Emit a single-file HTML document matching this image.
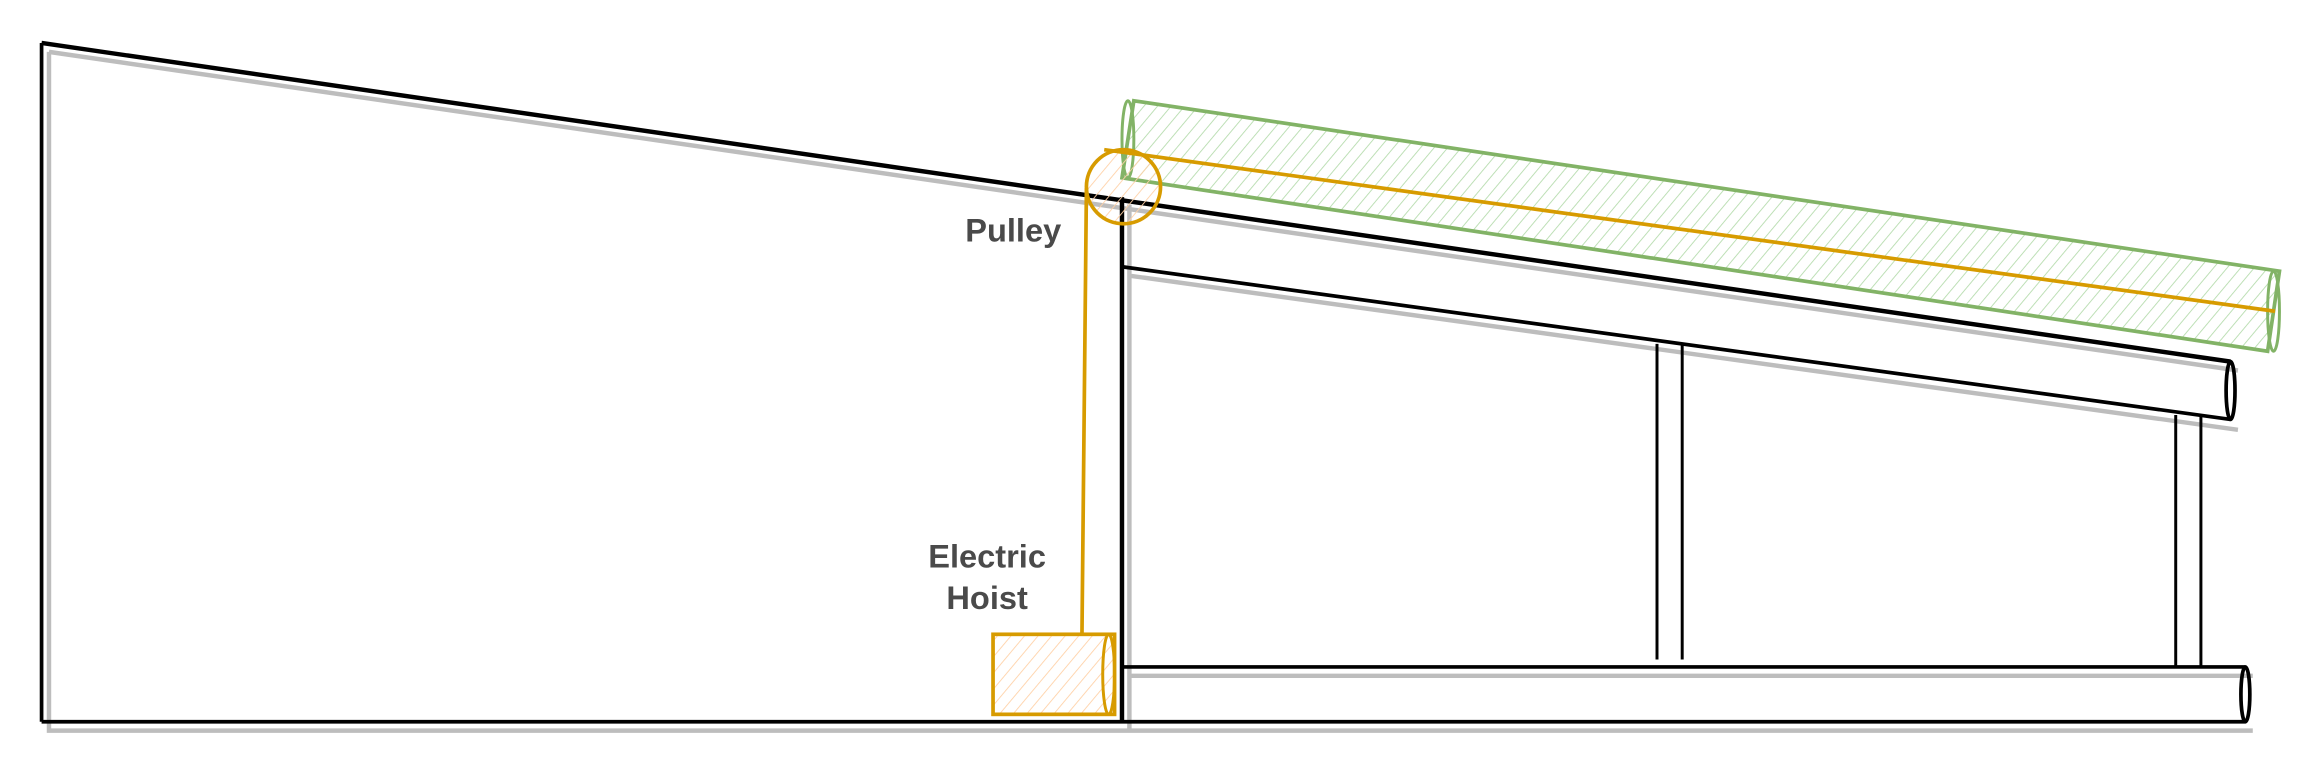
<!DOCTYPE html>
<html><head><meta charset="utf-8"><style>
html,body{margin:0;padding:0;background:#fff;}
svg{display:block;}
text{font-family:"Liberation Sans",sans-serif;font-weight:bold;fill:#4a4a4a;}
</style></head><body>
<svg width="2324" height="780" viewBox="0 0 1568 526.3">
<defs>
<pattern id="hg" width="7" height="7" patternUnits="userSpaceOnUse" patternTransform="rotate(40)">
<line x1="0" y1="0" x2="0" y2="7" stroke="#b6dcae" stroke-width="1.2"/></pattern>
<pattern id="ho" width="7" height="7" patternUnits="userSpaceOnUse" patternTransform="rotate(40)">
<line x1="0" y1="0" x2="0" y2="7" stroke="#ffd2a8" stroke-width="1.2"/></pattern>
</defs>
<g stroke="#bdbdbd" stroke-width="3" fill="none">
<path d="M33 35 L1510 250 M33 35 L33 493 L1520 493 M762 186 L1510 290 M762 138 L762 493 M762 456 L1520 456"/>
</g>
<g stroke="#000" stroke-width="2.5" fill="none">
<path d="M28 29 L1505 244" stroke-width="3"/>
<path d="M28 29 L28 487"/>
<path d="M28 487 L1515 487"/>
<path d="M757 133 L757 487" stroke-width="3"/>
<path d="M757 180 L1505 283"/>
<ellipse cx="1505" cy="263.5" rx="3" ry="19.5"/>
<path d="M757 450 L1515 450"/>
<ellipse cx="1515" cy="468.5" rx="3" ry="18.5"/>
<path d="M1118 232 L1118 445 M1135 232 L1135 445" stroke-width="2"/>
<path d="M1468 280 L1468 449 M1485 280 L1485 449" stroke-width="2"/>
</g>
<g>
<path d="M765 68 L1538 183 L1530 237 L757 120 Z" fill="url(#hg)" stroke="#82b366" stroke-width="2.5"/>
<ellipse cx="761" cy="94" rx="4" ry="26" fill="none" stroke="#82b366" stroke-width="2"/>
<ellipse cx="1534" cy="210" rx="4" ry="27" fill="none" stroke="#82b366" stroke-width="2"/>
</g>
<g stroke="#d79b00" stroke-width="2.5" fill="none">
<circle cx="758" cy="126" r="25" fill="url(#ho)"/>
<path d="M745 101 L1535 210 M733 127 L730 428"/>
</g>
<g>
<rect x="670" y="428" width="82" height="54" fill="url(#ho)" stroke="#d79b00" stroke-width="2.5"/>
<ellipse cx="748" cy="455" rx="4" ry="27" fill="none" stroke="#d79b00" stroke-width="2"/>
</g>
<text x="716" y="163" text-anchor="end" font-size="22">Pulley</text>
<text x="666" y="383" text-anchor="middle" font-size="22">Electric</text>
<text x="666" y="411" text-anchor="middle" font-size="22">Hoist</text>
</svg>
</body></html>
